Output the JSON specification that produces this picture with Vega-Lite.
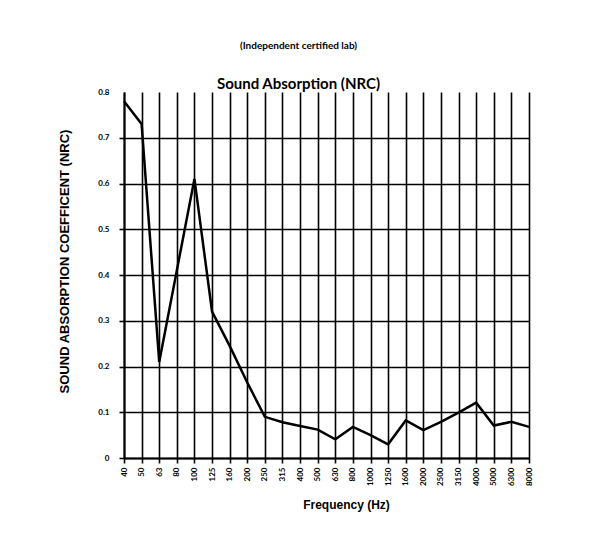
{
  "$schema": "https://vega.github.io/schema/vega-lite/v6.json",
  "autosize": "none",
  "width": 405,
  "height": 366,
  "padding": {"left": 124, "top": 92, "right": 87, "bottom": 81},
  "background": "white",
  "title": {
    "text": "(Independent certified lab)",
    "subtitle": "Sound Absorption (NRC)",
    "anchor": "middle",
    "frame": "group",
    "dx": -28,
    "font": "Lato",
    "fontSize": 10,
    "fontWeight": "bold",
    "color": "black",
    "subtitleFont": "Lato",
    "subtitleFontSize": 15,
    "subtitleFontWeight": "bold",
    "subtitleColor": "black",
    "subtitlePadding": 26,
    "offset": -4
  },
  "config": {
    "view": {"stroke": null},
    "axis": {
      "domainColor": "black",
      "domainWidth": 2,
      "gridColor": "black",
      "gridWidth": 1.6,
      "gridOpacity": 1,
      "tickColor": "black",
      "tickWidth": 1.6,
      "tickSize": 5,
      "labelColor": "black",
      "labelFont": "Lato",
      "labelFontWeight": "bold",
      "labelFontSize": 8,
      "titleColor": "black",
      "titleFont": "Liberation Sans",
      "titleFontWeight": "bold",
      "titleFontSize": 12
    }
  },
  "data": {
    "values": [
      {"freq": "40", "nrc": 0.78},
      {"freq": "50", "nrc": 0.73},
      {"freq": "63", "nrc": 0.21},
      {"freq": "80", "nrc": 0.41},
      {"freq": "100", "nrc": 0.61},
      {"freq": "125", "nrc": 0.32},
      {"freq": "160", "nrc": 0.245},
      {"freq": "200", "nrc": 0.165},
      {"freq": "250", "nrc": 0.09},
      {"freq": "315", "nrc": 0.078},
      {"freq": "400", "nrc": 0.07},
      {"freq": "500", "nrc": 0.062},
      {"freq": "630", "nrc": 0.041},
      {"freq": "800", "nrc": 0.068},
      {"freq": "1000", "nrc": 0.05},
      {"freq": "1250", "nrc": 0.03},
      {"freq": "1600", "nrc": 0.082},
      {"freq": "2000", "nrc": 0.061},
      {"freq": "2500", "nrc": 0.079},
      {"freq": "3150", "nrc": 0.099},
      {"freq": "4000", "nrc": 0.121},
      {"freq": "5000", "nrc": 0.071},
      {"freq": "6300", "nrc": 0.079},
      {"freq": "8000", "nrc": 0.068}
    ]
  },
  "mark": {"type": "line", "color": "black", "strokeWidth": 2.5},
  "encoding": {
    "x": {
      "field": "freq",
      "type": "ordinal",
      "sort": null,
      "scale": {"type": "point", "padding": 0},
      "axis": {
        "title": "Frequency (Hz)",
        "labelAngle": -90,
        "labelPadding": 4,
        "grid": true,
        "titleX": 222,
        "titlePadding": 14
      }
    },
    "y": {
      "field": "nrc",
      "type": "quantitative",
      "scale": {"domain": [0, 0.8], "nice": false},
      "axis": {
        "title": "SOUND ABSORPTION COEFFICENT (NRC)",
        "titleFontSize": 13,
        "values": [0, 0.1, 0.2, 0.3, 0.4, 0.5, 0.6, 0.7, 0.8],
        "format": "~g",
        "labelPadding": 10,
        "titlePadding": 26,
        "titleY": 169,
        "gridColor": {"condition": {"test": "datum.value >= 0.8", "value": "transparent"}, "value": "black"},
        "tickColor": {"condition": {"test": "datum.value >= 0.8", "value": "transparent"}, "value": "black"}
      }
    }
  }
}
